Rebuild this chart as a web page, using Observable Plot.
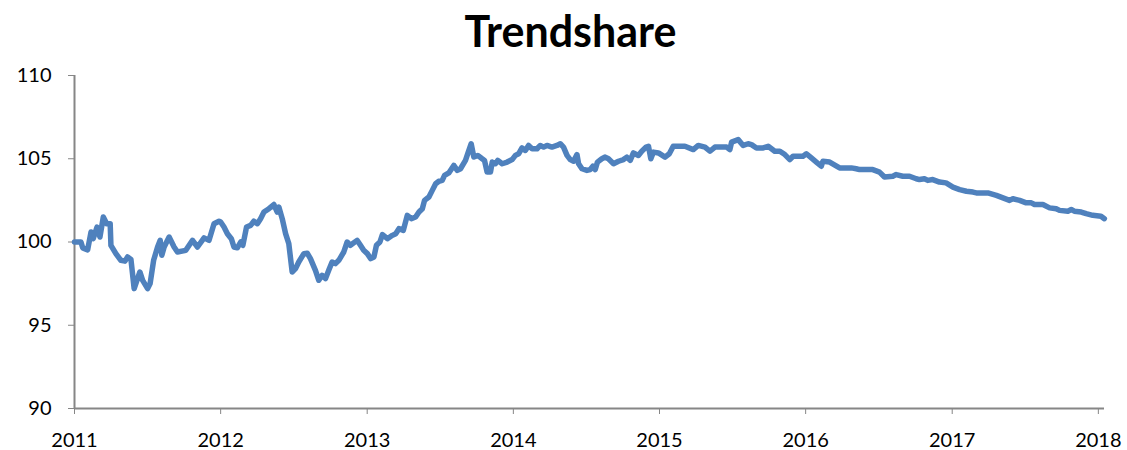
<!DOCTYPE html>
<html>
<head>
<meta charset="utf-8">
<script src="https://cdn.jsdelivr.net/npm/d3@7"></script>
<script src="https://cdn.jsdelivr.net/npm/@observablehq/plot@0.6"></script>
<style>
  html, body { margin: 0; padding: 0; background: #fff; }
  #title { width: 1127px; height: 60px; box-sizing: border-box; padding-left: 14px; padding-top: 6px;
           text-align: center; font-family: Lato, "Open Sans", sans-serif; font-weight: bold; font-size: 43px; line-height: 50px; color: #000; }
</style>
</head>
<body>
<div id="title">Trendshare</div>
<div id="chart"></div>
<script>
// decimal years (time) and index values
const years = [
  2011.000, 2011.044, 2011.056, 2011.090, 2011.113, 2011.128, 2011.154, 2011.174, 2011.197, 2011.220,
  2011.244, 2011.249, 2011.283, 2011.317, 2011.345, 2011.363, 2011.386, 2011.408, 2011.427, 2011.447,
  2011.466, 2011.500, 2011.517, 2011.541, 2011.568, 2011.586, 2011.597, 2011.613, 2011.647, 2011.681,
  2011.704, 2011.761, 2011.807, 2011.841, 2011.886, 2011.920, 2011.954, 2011.988, 2012.000, 2012.023,
  2012.046, 2012.073, 2012.091, 2012.114, 2012.137, 2012.152, 2012.177, 2012.205, 2012.227, 2012.251,
  2012.273, 2012.296, 2012.330, 2012.364, 2012.387, 2012.398, 2012.421, 2012.444, 2012.466, 2012.489,
  2012.512, 2012.534, 2012.569, 2012.592, 2012.614, 2012.648, 2012.671, 2012.694, 2012.717, 2012.739,
  2012.762, 2012.785, 2012.808, 2012.842, 2012.865, 2012.887, 2012.933, 2012.956, 2012.978, 2013.001,
  2013.024, 2013.046, 2013.063, 2013.087, 2013.104, 2013.138, 2013.172, 2013.195, 2013.217, 2013.247,
  2013.274, 2013.302, 2013.331, 2013.354, 2013.377, 2013.392, 2013.422, 2013.445, 2013.468, 2013.490,
  2013.513, 2013.529, 2013.558, 2013.592, 2013.616, 2013.638, 2013.672, 2013.691, 2013.711, 2013.729,
  2013.756, 2013.786, 2013.802, 2013.820, 2013.843, 2013.855, 2013.877, 2013.893, 2013.923, 2013.957,
  2013.991, 2014.014, 2014.036, 2014.059, 2014.082, 2014.104, 2014.128, 2014.162, 2014.184, 2014.207,
  2014.230, 2014.264, 2014.298, 2014.321, 2014.343, 2014.367, 2014.389, 2014.412, 2014.435, 2014.446,
  2014.469, 2014.503, 2014.526, 2014.544, 2014.560, 2014.575, 2014.605, 2014.628, 2014.650, 2014.685,
  2014.719, 2014.753, 2014.776, 2014.799, 2014.821, 2014.855, 2014.878, 2014.908, 2014.924, 2014.940,
  2014.958, 2014.992, 2015.038, 2015.067, 2015.094, 2015.174, 2015.231, 2015.265, 2015.311, 2015.345,
  2015.379, 2015.459, 2015.481, 2015.493, 2015.538, 2015.572, 2015.606, 2015.629, 2015.663, 2015.709,
  2015.743, 2015.788, 2015.823, 2015.857, 2015.891, 2015.913, 2015.981, 2016.005, 2016.039, 2016.073,
  2016.107, 2016.118, 2016.164, 2016.232, 2016.312, 2016.346, 2016.369, 2016.459, 2016.505, 2016.539,
  2016.596, 2016.619, 2016.664, 2016.710, 2016.756, 2016.778, 2016.812, 2016.835, 2016.869, 2016.915,
  2016.960, 2017.005, 2017.051, 2017.097, 2017.142, 2017.165, 2017.244, 2017.302, 2017.347, 2017.392,
  2017.415, 2017.461, 2017.506, 2017.541, 2017.563, 2017.620, 2017.666, 2017.711, 2017.734, 2017.791,
  2017.814, 2017.835, 2017.882, 2017.916, 2017.961, 2018.018, 2018.041
];
const values = [
  100.0, 100.0, 99.65, 99.53, 100.6, 100.2, 100.9, 100.3, 101.5, 101.1,
  101.1, 99.8, 99.3, 98.9, 98.85, 99.1, 98.95, 97.2, 97.7, 98.2,
  97.7, 97.2, 97.5, 98.9, 99.7, 100.1, 99.2, 99.7, 100.3, 99.7,
  99.4, 99.5, 100.1, 99.7, 100.25, 100.1, 101.1, 101.25, 101.2, 100.9,
  100.5, 100.2, 99.7, 99.65, 100.0, 99.8, 100.9, 101.0, 101.25, 101.1,
  101.4, 101.8, 102.0, 102.25, 101.8, 102.1, 101.4, 100.5, 99.9, 98.2,
  98.4, 98.8, 99.3, 99.33, 99.0, 98.3, 97.7, 98.0, 97.8, 98.3,
  98.8, 98.7, 98.9, 99.4, 100.0, 99.8, 100.1, 99.8, 99.5, 99.3,
  99.0, 99.1, 99.8, 100.0, 100.45, 100.2, 100.4, 100.5, 100.8, 100.7,
  101.6, 101.4, 101.5, 101.8, 102.0, 102.5, 102.7, 103.1, 103.5, 103.65,
  103.7, 104.0, 104.15, 104.6, 104.3, 104.4, 104.9, 105.4, 105.9, 105.1,
  105.2, 105.0, 104.9, 104.2, 104.2, 104.8, 104.7, 104.9, 104.7, 104.8,
  104.95, 105.2, 105.3, 105.65, 105.5, 105.8, 105.6, 105.6, 105.8, 105.7,
  105.8, 105.7, 105.8, 105.9, 105.7, 105.2, 104.95, 104.85, 105.25, 104.7,
  104.4, 104.3, 104.35, 104.55, 104.35, 104.8, 105.0, 105.1, 105.0, 104.7,
  104.85, 104.95, 105.1, 104.9, 105.35, 105.2, 105.45, 105.7, 105.75, 105.0,
  105.4, 105.35, 105.1, 105.3, 105.75, 105.75, 105.55, 105.8, 105.7, 105.45,
  105.7, 105.7, 105.55, 106.0, 106.15, 105.8, 105.9, 105.85, 105.65, 105.65,
  105.75, 105.45, 105.45, 105.25, 104.95, 105.15, 105.15, 105.3, 105.05, 104.8,
  104.55, 104.85, 104.8, 104.45, 104.45, 104.4, 104.35, 104.35, 104.2, 103.9,
  103.95, 104.05, 103.95, 103.95, 103.8, 103.75, 103.8, 103.7, 103.75, 103.6,
  103.55, 103.3, 103.15, 103.05, 103.0, 102.95, 102.95, 102.8, 102.65, 102.5,
  102.6, 102.5, 102.35, 102.35, 102.25, 102.25, 102.05, 102.0, 101.9, 101.85,
  101.95, 101.85, 101.8, 101.7, 101.6, 101.55, 101.4
];
const yTicks = [90, 95, 100, 105, 110];
const xTickYears = [2011, 2012, 2013, 2014, 2015, 2016, 2017, 2018];

const toDate = (y) => {
  const yr = Math.floor(y);
  return new Date(Date.UTC(yr, 0, 1) + (y - yr) * 365.25 * 864e5);
};
const data = years.map((y, i) => ({date: toDate(y), value: values[i]}));
const xStart = new Date(Date.UTC(2011, 0, 1));
const xEnd = toDate(2018.042);
const xTicks = xTickYears.map(y => new Date(Date.UTC(y, 0, 1)));
const axisColor = "#868686";

const chart = Plot.plot({
  width: 1127,
  height: 390,
  marginLeft: 74,
  marginRight: 23,
  marginTop: 15,
  marginBottom: 42,
  style: {fontFamily: "Lato, 'Open Sans', sans-serif", fontSize: "20px", color: "#000", background: "#fff"},
  x: {type: "utc", domain: [xStart, xEnd]},
  y: {domain: [90, 110]},
  marks: [
    Plot.axisY({ticks: yTicks, tickSize: 6, tickPadding: 17, stroke: axisColor, fill: "#000", label: null, fontSize: 20}),
    Plot.axisX({ticks: xTicks, tickFormat: d3.utcFormat("%Y"), tickSize: 6, tickPadding: 18, stroke: axisColor, fill: "#000", label: null, fontSize: 20}),
    Plot.ruleY([90], {stroke: axisColor, strokeWidth: 2}),
    Plot.ruleX([xStart], {y1: 90, y2: 110, stroke: axisColor, strokeWidth: 2}),
    Plot.line(data, {x: "date", y: "value", stroke: "#4F81BD", strokeWidth: 5.5, strokeLinejoin: "round", strokeLinecap: "round"})
  ]
});
document.getElementById("chart").appendChild(chart);
</script>
</body>
</html>
